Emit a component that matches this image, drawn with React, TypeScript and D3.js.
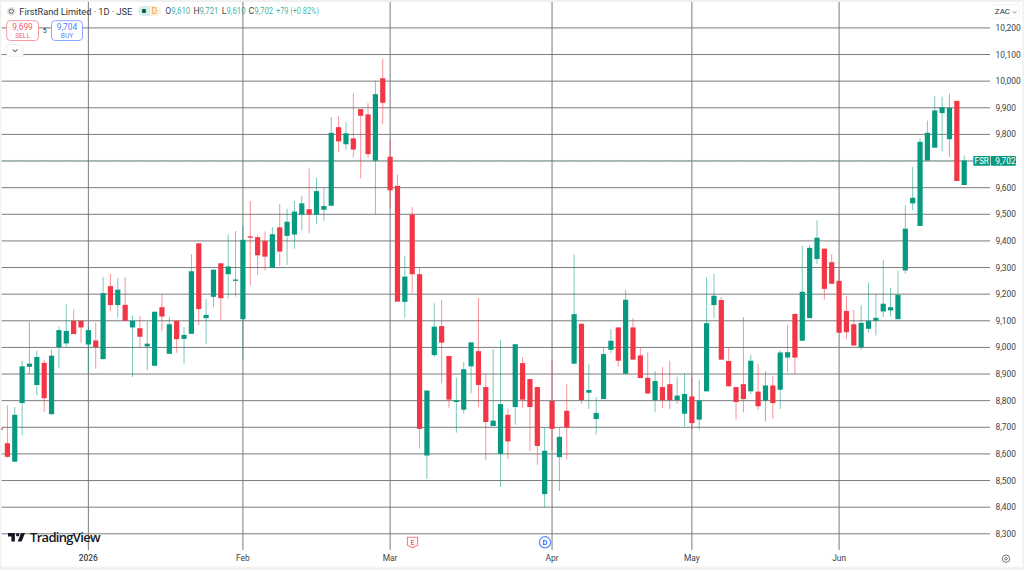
import * as d3 from 'd3';

const WIDTH = 1024;
const HEIGHT = 570;

const GREEN = '#089981';
const RED = '#f23645';
const BLUE = '#2962ff';
const GRID = '#757575';
const FONT = 'Roboto, "Noto Sans", sans-serif';

// one entry per session (first one is clipped by the left edge)
const opens = [
  8697, 8640, 8571, 8791, 8927, 8859, 8942, 8749, 9001, 9015, 9100, 9100,
  9011, 9026, 8956, 9230, 9159, 9160, 9075, 9072, 9004, 8931, 9151, 8976,
  9100, 9032, 9051, 9391, 9110, 9190, 9316, 9275, 9250, 9106, 9417, 9414,
  9400, 9300, 9451, 9419, 9424, 9499, 9519, 9499, 9517, 9532, 9827, 9763,
  9785, 9895, 9875, 9701, 10011, 9716, 9607, 9171, 9499, 9275, 8594, 8971,
  9080, 8968, 8795, 8766, 8929, 8986, 8851, 8705, 8600, 8747, 8776, 8941,
  8881, 8851, 8449, 8799, 8588, 8762, 8939, 9089, 8830, 8731, 8806, 8991,
  9075, 8901, 9075, 8970, 8886, 8802, 8851, 8862, 8802, 8751, 8816, 8729,
  8835, 9159, 9178, 8949, 8851, 8862, 8835, 8834, 8800, 8857, 8841, 8962,
  9126, 9025, 9110, 9332, 9371, 9320, 9250, 9137, 9087, 9000, 9070, 9100,
  9135, 9139, 9106, 9289, 9541, 9456, 9702, 9750, 9880, 9782, 9926, 9610,
];
const highs = [
  8697, 8782, 8776, 8950, 9097, 8987, 8954, 8991, 9079, 9162, 9141, 9100,
  9079, 9092, 9265, 9276, 9261, 9265, 9120, 9117, 9097, 9134, 9200, 9115,
  9100, 9076, 9350, 9391, 9182, 9292, 9316, 9425, 9437, 9456, 9550, 9422,
  9436, 9452, 9539, 9521, 9550, 9570, 9672, 9637, 9598, 9865, 9869, 9846,
  9955, 9895, 9918, 10002, 10084, 9782, 9649, 9344, 9527, 9300, 8838, 9166,
  9179, 8968, 8886, 8945, 9019, 9186, 8901, 8994, 9029, 8770, 9012, 8964,
  8881, 8851, 8699, 8956, 8699, 8862, 9349, 9089, 8939, 8814, 9001, 9069,
  9075, 9216, 9110, 9000, 8982, 8911, 8927, 8950, 8890, 8901, 8888, 8879,
  9264, 9276, 9189, 8998, 8851, 9114, 8972, 8937, 8911, 8891, 8989, 9082,
  9126, 9381, 9384, 9477, 9371, 9351, 9291, 9194, 9141, 9160, 9244, 9201,
  9329, 9224, 9286, 9534, 9679, 9785, 9852, 9944, 9941, 9952, 9926, 9721,
];
const lows = [
  8690, 8587, 8570, 8670, 8900, 8820, 8757, 8749, 8922, 9001, 9050, 9017,
  8904, 8920, 8956, 9135, 9112, 9100, 8889, 9001, 8914, 8931, 9061, 8976,
  8980, 8939, 9051, 9084, 9012, 9151, 9101, 9185, 9191, 8954, 9232, 9272,
  9289, 9300, 9306, 9310, 9371, 9441, 9430, 9465, 9476, 9532, 9733, 9743,
  9714, 9635, 9710, 9500, 9838, 9525, 9172, 9112, 9206, 8620, 8506, 8964,
  8865, 8773, 8680, 8751, 8828, 8775, 8576, 8705, 8476, 8581, 8710, 8773,
  8611, 8559, 8399, 8614, 8461, 8579, 8939, 8789, 8769, 8674, 8806, 8978,
  8927, 8901, 8954, 8885, 8827, 8756, 8771, 8769, 8789, 8704, 8691, 8691,
  8835, 9111, 8954, 8854, 8729, 8756, 8825, 8766, 8722, 8732, 8769, 8906,
  8901, 9025, 9110, 9314, 9180, 9239, 9055, 9032, 9007, 8991, 9056, 9045,
  9114, 9116, 9106, 9277, 9515, 9456, 9702, 9750, 9737, 9716, 9625, 9610,
];
const closes = [
  8690, 8589, 8747, 8929, 8939, 8964, 8809, 8969, 9065, 9062, 9050, 9075,
  9065, 9001, 9204, 9159, 9217, 9100, 9100, 9040, 9014, 9134, 9116, 9087,
  9031, 9047, 9286, 9144, 9122, 9292, 9185, 9304, 9255, 9404, 9412, 9346,
  9341, 9425, 9360, 9472, 9510, 9541, 9499, 9587, 9531, 9806, 9774, 9804,
  9743, 9870, 9726, 9951, 9919, 9590, 9172, 9266, 9275, 8694, 8838, 9078,
  9018, 8804, 8801, 8918, 9019, 8859, 8720, 8725, 8787, 8647, 9012, 8804,
  8776, 8630, 8612, 8694, 8664, 8699, 9125, 8802, 8840, 8754, 8975, 9025,
  8950, 9179, 8954, 8885, 8827, 8874, 8802, 8802, 8819, 8825, 8716, 8801,
  9091, 9194, 8954, 8854, 8795, 8806, 8950, 8779, 8857, 8791, 8981, 8982,
  8962, 9209, 9374, 9412, 9220, 9239, 9055, 9057, 9007, 9092, 9100, 9111,
  9164, 9151, 9197, 9446, 9562, 9772, 9806, 9890, 9902, 9900, 9625, 9702,
];

const priceTicks = [
  8300, 8400, 8500, 8600, 8700, 8800, 8900, 9000, 9100, 9200,
  9300, 9400, 9500, 9600, 9700, 9800, 9900, 10000, 10100, 10200,
];
const monthLabels = ['2026', 'Feb', 'Mar', 'Apr', 'May', 'Jun'];
const monthIndex = [12, 33, 53, 75, 94, 114];

const lastPrice = 9702;
const legendValues = [
  { label: 'O', value: '9,610', lx: 165.3, vx: 171.2 },
  { label: 'H', value: '9,721', lx: 193.6, vx: 199.4 },
  { label: 'L', value: '9,610', lx: 221.8, vx: 226.5 },
  { label: 'C', value: '9,702', lx: 248.6, vx: 254.2 },
];

const x = d3.scaleLinear().domain([0, 131]).range([0.04, 964.2]);
const y = d3.scaleLinear().domain([8300, 10200]).range([533.8, 27.9]);
const fmt = d3.format(',');

function Candles() {
  return (
    <g>
      {opens.map((open, i) => {
        const close = closes[i];
        const color = close >= open ? GREEN : RED;
        const top = y(Math.max(open, close));
        const bottom = y(Math.min(open, close));
        return (
          <g key={i}>
            <line x1={x(i)} x2={x(i)} y1={y(highs[i])} y2={y(lows[i])} stroke={color} strokeWidth={0.9} strokeOpacity={0.6} />
            <rect x={x(i) - 2.6} y={top} width={5.2} height={Math.max(bottom - top, 1.2)} fill={color} />
          </g>
        );
      })}
    </g>
  );
}

function Header() {
  return (
    <g fontFamily={FONT}>
      <circle cx={11.3} cy={11.3} r={4.4} fill="#e4e5e9" />
      <circle cx={11.3} cy={11.3} r={2.2} fill="none" stroke="#555" strokeWidth={0.8} />
      <text x={19.3} y={14.8} fontSize={9.8} fill="#2e3238" textLength={113} lengthAdjust="spacingAndGlyphs">FirstRand Limited · 1D · JSE</text>
      <path d="M143,6 H150.5 V16 H143 a5,5 0 0 1 0,-10 Z" fill="#d8eee9" />
      <path d="M150.5,6 H156 a5,5 0 0 1 0,10 H150.5 Z" fill="#fdf1df" />
      <circle cx={144} cy={11} r={2.2} fill="#065f50" />
      <text x={154.5} y={14.3} fontSize={8.8} fill="#f6a13a" textAnchor="middle">D</text>
      {legendValues.map(d => (
        <g key={d.label} fontSize={8.6}>
          <text x={d.lx} y={14.4} fill="#444">{d.label}</text>
          <text x={d.vx} y={14.4} fill={GREEN} fillOpacity={0.8} textLength={19} lengthAdjust="spacingAndGlyphs">{d.value}</text>
        </g>
      ))}
      <text x={276} y={14.4} fontSize={8.6} fill={GREEN} fillOpacity={0.75} textLength={43} lengthAdjust="spacingAndGlyphs">+79 (+0.82%)</text>

      <rect x={6.7} y={20.7} width={31.8} height={19.8} rx={3.5} fill="#fff" stroke="#f99aa3" strokeWidth={1} />
      <text x={22.6} y={29.5} fontSize={8.4} fill={RED} textAnchor="middle" fillOpacity={0.85}>9,699</text>
      <text x={22.6} y={37.6} fontSize={6.6} fill={RED} textAnchor="middle" fillOpacity={0.8}>SELL</text>
      <text x={44.7} y={33} fontSize={7} fill="#333" textAnchor="middle">5</text>
      <rect x={51.5} y={20.7} width={31} height={19.8} rx={3.5} fill="#fff" stroke="#8aa8ff" strokeWidth={1} />
      <text x={67} y={29.5} fontSize={8.4} fill={BLUE} textAnchor="middle" fillOpacity={0.85}>9,704</text>
      <text x={67} y={37.6} fontSize={6.6} fill={BLUE} textAnchor="middle" fillOpacity={0.8}>BUY</text>

      <rect x={6.8} y={44.6} width={16.4} height={11.6} rx={2} fill="#fff" stroke="#e6e6e6" strokeWidth={0.7} />
      <path d="M12.6,49.6 L15,51.6 L17.4,49.6" fill="none" stroke="#333" strokeWidth={1} />

      <rect x={992.8} y={4.5} width={26.4} height={14} rx={2} fill="#fff" stroke="#ececec" strokeWidth={0.6} />
      <text x={994.8} y={14.4} fontSize={8} fill="#333">ZAC</text>
      <path d="M1012.7,11.4 L1014.6,12.9 L1016.5,11.4" fill="none" stroke="#555" strokeWidth={0.7} />
    </g>
  );
}

function Markers() {
  return (
    <g fontFamily={FONT}>
      <path d="M407.4,537.2 H417.6 V545.2 L412.5,547.8 L407.4,545.2 Z" fill="#fff" stroke="#f5808b" strokeWidth={1.1} />
      <text x={412.5} y={545} fontSize={7} fontWeight={600} fill="#f5626f" textAnchor="middle">E</text>
      <circle cx={545} cy={542.3} r={5.6} fill="#fff" stroke="#5c85ff" strokeWidth={1.2} />
      <text x={545} y={545} fontSize={7.4} fontWeight={600} fill={BLUE} textAnchor="middle">D</text>
    </g>
  );
}

function Logo() {
  return (
    <g>
      <g transform="translate(6.9,529.6) scale(0.567)">
        <path d="M14 6H2v6h6v9h6V6Zm12 15h-7l6-15h7l-6 15Zm-7-9a3 3 0 1 0 0-6 3 3 0 0 0 0 6Z" fill="#131722" />
      </g>
      <text x={30} y={542.2} fontFamily={'"Open Sans", Roboto, sans-serif'} fontSize={13} fontWeight={600} fill="#131722" textLength={70.6}>TradingView</text>
    </g>
  );
}

export default function App() {
  return (
    <svg
      width={WIDTH}
      height={HEIGHT}
      viewBox={`0 0 ${WIDTH} ${HEIGHT}`}
      style={{ position: 'fixed', left: 0, top: 0, background: '#fff', display: 'block' }}
    >
      {priceTicks.map(t => (
        <line key={t} x1={1.5} x2={990} y1={y(t)} y2={y(t)} stroke={GRID} strokeWidth={0.95} />
      ))}
      {monthIndex.map(i => (
        <line key={i} x1={x(i)} x2={x(i)} y1={2} y2={550} stroke={GRID} strokeWidth={0.95} />
      ))}
      <line x1={1.5} x2={990} y1={y(lastPrice)} y2={y(lastPrice)} stroke={GREEN} strokeWidth={1} strokeDasharray="1 2" strokeOpacity={0.55} />

      <Candles />
      <Logo />
      <Markers />
      <Header />

      <g fontFamily={FONT} fontSize={8.4} fill="#3c3f46">
        {priceTicks.map(t => (
          <text key={t} x={995.5} y={y(t) + 3}>{fmt(t)}</text>
        ))}
        {monthLabels.map((m, k) => (
          <text key={m} x={x(monthIndex[k])} y={561} textAnchor="middle" fontWeight={m === '2026' ? 500 : 400}>{m}</text>
        ))}
      </g>

      <rect x={973.3} y={156} width={16.8} height={9.7} rx={1} fill={GREEN} />
      <rect x={990.7} y={156} width={25.3} height={9.7} rx={1} fill={GREEN} />
      <text x={981.7} y={163.9} fontFamily={FONT} fontSize={8.2} fill="#fff" textAnchor="middle">FSR</text>
      <text x={995.2} y={163.9} fontFamily={FONT} fontSize={8.4} fill="#fff">{fmt(lastPrice)}</text>

      <circle cx={1006} cy={558.7} r={3.7} fill="none" stroke="#555" strokeWidth={0.8} />
      <circle cx={1006} cy={558.7} r={1.3} fill="none" stroke="#555" strokeWidth={0.8} />

      <rect x={0} y={0} width={WIDTH} height={2} fill="#f0f0f0" />
      <rect x={0} y={0} width={1.3} height={HEIGHT} fill="#f0f0f0" />
      <rect x={0} y={566.6} width={WIDTH} height={3.4} fill="#f3f3f3" />
      <rect x={1022} y={0} width={2} height={HEIGHT} fill="#f3f3f3" />
    </svg>
  );
}
